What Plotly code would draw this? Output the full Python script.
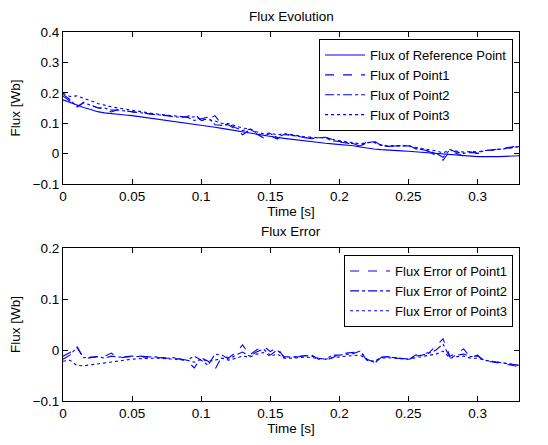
import numpy as np
import plotly.graph_objects as go

# time grid [s]
t = np.round(np.arange(0, 0.3301, 0.005), 3)

# reference flux [Wb]
flux_ref = [0.177, 0.168, 0.160, 0.152, 0.145, 0.138, 0.134, 0.131, 0.129, 0.127,
            0.125, 0.122, 0.119, 0.116, 0.113, 0.110, 0.106, 0.103, 0.100, 0.097,
            0.094, 0.090, 0.087, 0.083, 0.079, 0.075, 0.072, 0.068, 0.064, 0.060,
            0.056, 0.053, 0.050, 0.047, 0.044, 0.041, 0.039, 0.036, 0.034, 0.032,
            0.030, 0.029, 0.026, 0.022, 0.018, 0.015, 0.013, 0.011, 0.010, 0.009,
            0.008, 0.006, 0.004, 0.002, 0.001, 0.000, -0.003, -0.005, -0.007, -0.009,
            -0.010, -0.010, -0.011, -0.010, -0.009, -0.008, -0.007]

# flux errors [Wb]
err1 = [-0.012, -0.005, 0.008, -0.017, -0.015, -0.013, -0.012, -0.006, -0.016, -0.014,
        -0.013, -0.012, -0.013, -0.013, -0.015, -0.015, -0.016, -0.018, -0.022, -0.035,
        -0.015, -0.022, -0.038, -0.012, -0.015, -0.005, 0.010, -0.010, 0.000, 0.008,
        -0.003, 0.005, -0.015, -0.015, -0.013, -0.012, -0.010, -0.018, -0.020, -0.015,
        -0.008, -0.006, -0.005, -0.003, -0.020, -0.027, -0.015, -0.014, -0.015, -0.017,
        -0.020, -0.010, -0.008, -0.005, 0.008, 0.022, -0.012, -0.006, 0.002, -0.015,
        -0.010, -0.022, -0.023, -0.025, -0.027, -0.030, -0.033]
err2 = [-0.018, -0.010, 0.005, -0.015, -0.014, -0.013, -0.016, -0.012, -0.014, -0.013,
        -0.012, -0.013, -0.014, -0.013, -0.014, -0.016, -0.015, -0.017, -0.020, -0.012,
        -0.020, -0.030, -0.008, -0.010, -0.018, -0.010, -0.004, -0.012, -0.004, 0.002,
        -0.010, 0.000, -0.013, -0.014, -0.013, -0.011, -0.012, -0.016, -0.018, -0.010,
        -0.010, -0.008, -0.007, -0.002, -0.018, -0.024, -0.014, -0.013, -0.015, -0.016,
        -0.018, -0.012, -0.010, -0.006, 0.000, 0.012, -0.015, -0.010, -0.008, -0.013,
        -0.012, -0.020, -0.022, -0.024, -0.026, -0.028, -0.030]
err3 = [-0.022, -0.020, -0.030, -0.031, -0.029, -0.027, -0.025, -0.023, -0.021, -0.019,
        -0.018, -0.017, -0.016, -0.016, -0.016, -0.017, -0.017, -0.018, -0.020, -0.024,
        -0.018, -0.022, -0.020, -0.016, -0.020, -0.016, -0.012, -0.014, -0.008, -0.005,
        -0.012, -0.008, -0.016, -0.016, -0.015, -0.014, -0.015, -0.017, -0.018, -0.015,
        -0.013, -0.012, -0.011, -0.010, -0.018, -0.022, -0.016, -0.015, -0.016, -0.017,
        -0.018, -0.015, -0.013, -0.011, -0.008, -0.002, -0.016, -0.013, -0.012, -0.016,
        -0.016, -0.020, -0.022, -0.024, -0.025, -0.027, -0.030]

ref = np.array(flux_ref)
p1 = ref - np.array(err1)
p2 = ref - np.array(err2)
p3 = ref - np.array(err3)

x_tickvals = [0, 0.05, 0.1, 0.15, 0.2, 0.25, 0.3]
x_ticktext = ["0", "0.05", "0.1", "0.15", "0.2", "0.25", "0.3"]
y1_tickvals = [-0.1, 0, 0.1, 0.2, 0.3, 0.4]
y1_ticktext = ["\u22120.1", "0", "0.1", "0.2", "0.3", "0.4"]
y2_tickvals = [-0.1, 0, 0.1, 0.2]
y2_ticktext = ["\u22120.1", "0", "0.1", "0.2"]

BLUE = "#0000ff"
FONT = "Liberation Sans, Arial, sans-serif"
LW = 1.1

fig = go.Figure()
fig.add_trace(go.Scatter(x=t, y=ref, mode="lines", name="Flux of Reference Point",
                         line=dict(color=BLUE, width=LW), xaxis="x", yaxis="y", legend="legend"))
fig.add_trace(go.Scatter(x=t, y=p1, mode="lines", name="Flux of Point1",
                         line=dict(color=BLUE, width=LW, dash="dash"), xaxis="x", yaxis="y", legend="legend"))
fig.add_trace(go.Scatter(x=t, y=p2, mode="lines", name="Flux of Point2",
                         line=dict(color=BLUE, width=LW, dash="dashdot"), xaxis="x", yaxis="y", legend="legend"))
fig.add_trace(go.Scatter(x=t, y=p3, mode="lines", name="Flux of Point3",
                         line=dict(color=BLUE, width=LW, dash="dot"), xaxis="x", yaxis="y", legend="legend"))

fig.add_trace(go.Scatter(x=t, y=err1, mode="lines", name="Flux Error of Point1",
                         line=dict(color=BLUE, width=LW, dash="dash"), xaxis="x2", yaxis="y2", legend="legend2"))
fig.add_trace(go.Scatter(x=t, y=err2, mode="lines", name="Flux Error of Point2",
                         line=dict(color=BLUE, width=LW, dash="dashdot"), xaxis="x2", yaxis="y2", legend="legend2"))
fig.add_trace(go.Scatter(x=t, y=err3, mode="lines", name="Flux Error of Point3",
                         line=dict(color=BLUE, width=LW, dash="dot"), xaxis="x2", yaxis="y2", legend="legend2"))

axis_common = dict(showline=True, linecolor="black", linewidth=1, mirror="allticks",
                   ticks="inside", ticklen=5, tickcolor="black", showgrid=False, zeroline=False,
                   tickfont=dict(family=FONT, size=13.5, color="black"))

legend_common = dict(xanchor="right", yanchor="top", bgcolor="white",
                     bordercolor="black", borderwidth=1,
                     font=dict(family=FONT, size=13, color="black"),
                     tracegroupgap=0, itemwidth=40)

fig.update_layout(
    width=548, height=445,
    margin=dict(l=63, r=29, t=32, b=39),
    plot_bgcolor="white", paper_bgcolor="white",
    font=dict(family=FONT, size=13.5, color="black"),
    xaxis=dict(domain=[0, 1], range=[0, 0.33], tickvals=x_tickvals, ticktext=x_ticktext,
               anchor="y", title=dict(text="Time [s]", standoff=0, font=dict(size=13.5)), **axis_common),
    yaxis=dict(domain=[0.588, 1], range=[-0.1, 0.4], tickvals=y1_tickvals, ticktext=y1_ticktext,
               anchor="x", title=dict(text="Flux [Wb]", standoff=8, font=dict(size=13.5)), **axis_common),
    xaxis2=dict(domain=[0, 1], range=[0, 0.33], tickvals=x_tickvals, ticktext=x_ticktext,
                anchor="y2", title=dict(text="Time [s]", standoff=2, font=dict(size=13.5)), **axis_common),
    yaxis2=dict(domain=[0, 0.4144], range=[-0.1, 0.2], tickvals=y2_tickvals, ticktext=y2_ticktext,
                anchor="x2", title=dict(text="Flux [Wb]", standoff=8, font=dict(size=13.5)), **axis_common),
    legend=dict(x=0.987, y=0.981, **legend_common),
    legend2=dict(x=0.987, y=0.3957, **legend_common),
    annotations=[
        dict(text="Flux Evolution", x=0.5, y=(406 - 16) / 374, xref="paper", yref="paper",
             showarrow=False, yanchor="middle", font=dict(family=FONT, size=13.5, color="black")),
        dict(text="Flux Error", x=0.5, y=(406 - 234) / 374, xref="paper", yref="paper",
             showarrow=False, yanchor="middle", font=dict(family=FONT, size=13.5, color="black")),
    ],
)

fig.write_html("out.html")
